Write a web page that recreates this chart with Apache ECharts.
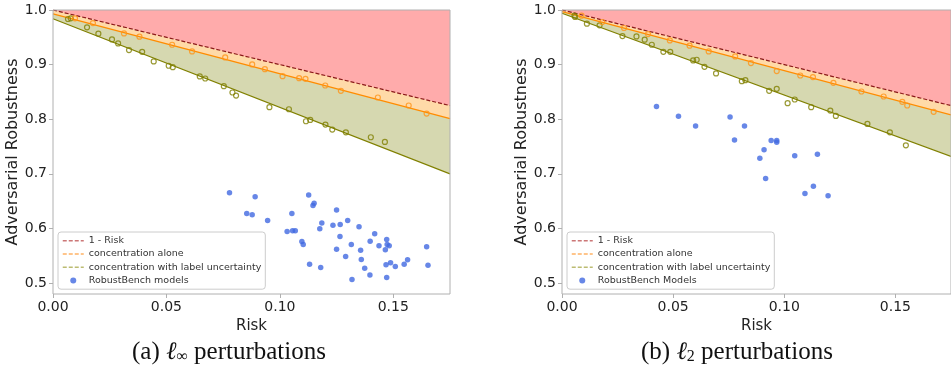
<!DOCTYPE html>
<html>
<head>
<meta charset="utf-8">
<script src="https://cdn.jsdelivr.net/npm/echarts@6/dist/echarts.min.js"></script>
<style>
  html, body { margin: 0; padding: 0; background: #fff; }
  #chart { width: 951px; height: 365px; }
</style>
</head>
<body>
<div id="chart"></div>
<script>
// axis ticks
const xTicks = [0, 0.05, 0.10, 0.15];
const yTicks = [0.5, 0.6, 0.7, 0.8, 0.9, 1.0];
const riskEnds = [0, 0.175];

// (a) l-inf: bound lines at risk = 0 and risk = 0.175
const linfOneMinusRisk = [1.0, 0.825];
const linfConcAlone = [0.993, 0.801];
const linfConcLabel = [0.984, 0.700];

// (b) l2
const l2OneMinusRisk = [1.0, 0.825];
const l2ConcAlone = [0.997, 0.808];
const l2ConcLabel = [0.994, 0.732];

// (a) points [risk, robustness]
const linfAlonePts = [
  [0.0097, 0.9847], [0.0176, 0.9761], [0.0313, 0.9572], [0.0381, 0.9511], [0.0525, 0.9364],
  [0.0613, 0.9242], [0.0759, 0.9131], [0.0878, 0.9003], [0.0934, 0.8917], [0.1012, 0.8789],
  [0.1085, 0.8752], [0.1113, 0.8740], [0.1200, 0.8618], [0.1269, 0.8520], [0.1432, 0.8398],
  [0.1568, 0.8251], [0.1647, 0.8104]
];
const linfLabelPts = [
  [0.0066, 0.9835], [0.0078, 0.9847], [0.0150, 0.9682], [0.0200, 0.9566], [0.0260, 0.9462],
  [0.0287, 0.9388], [0.0335, 0.9266], [0.0393, 0.9235], [0.0444, 0.9058], [0.0510, 0.8979],
  [0.0528, 0.8954], [0.0647, 0.8783], [0.0671, 0.8746], [0.0753, 0.8606], [0.0791, 0.8489],
  [0.0807, 0.8434], [0.0954, 0.8220], [0.1040, 0.8183], [0.1115, 0.7963], [0.1134, 0.7988],
  [0.1201, 0.7902], [0.1231, 0.7810], [0.1291, 0.7761], [0.1401, 0.7670], [0.1463, 0.7584]
];
const linfModels = [
  [0.0778, 0.6655], [0.0854, 0.6275], [0.0878, 0.6250], [0.0891, 0.6580], [0.0946, 0.6147],
  [0.1032, 0.5945], [0.1053, 0.6275], [0.1056, 0.5958], [0.1068, 0.5958], [0.1097, 0.5761],
  [0.1103, 0.5706], [0.1127, 0.6611], [0.1131, 0.5345], [0.1146, 0.6420], [0.1151, 0.6460],
  [0.1176, 0.5994], [0.1185, 0.6098], [0.1180, 0.5284], [0.1234, 0.6060], [0.1250, 0.6336],
  [0.1250, 0.5620], [0.1266, 0.6073], [0.1265, 0.5853], [0.1290, 0.5486], [0.1299, 0.6147],
  [0.1315, 0.5706], [0.1318, 0.5064], [0.1349, 0.6031], [0.1356, 0.5602], [0.1359, 0.5431],
  [0.1374, 0.5272], [0.1397, 0.5150], [0.1398, 0.5767], [0.1418, 0.5902], [0.1437, 0.5682],
  [0.1465, 0.5609], [0.1471, 0.5798], [0.1473, 0.5706], [0.1482, 0.5682], [0.1468, 0.5334],
  [0.1471, 0.5101], [0.1488, 0.5370], [0.1509, 0.5303], [0.1548, 0.5345], [0.1563, 0.5425],
  [0.1647, 0.5664], [0.1653, 0.5327]
];

// (b) points
const l2AlonePts = [
  [0.0088, 0.9896], [0.0181, 0.9780], [0.0279, 0.9670], [0.0387, 0.9560], [0.0485, 0.9443],
  [0.0574, 0.9346], [0.0660, 0.9242], [0.0779, 0.9150], [0.0850, 0.9028], [0.0966, 0.8881],
  [0.1072, 0.8801], [0.1129, 0.8771], [0.1221, 0.8667], [0.1347, 0.8508], [0.1447, 0.8416],
  [0.1531, 0.8318], [0.1553, 0.8251], [0.1672, 0.8135]
];
const l2LabelPts = [
  [0.0056, 0.9896], [0.0059, 0.9872], [0.0112, 0.9749], [0.0169, 0.9719], [0.0272, 0.9523],
  [0.0335, 0.9517], [0.0372, 0.9456], [0.0404, 0.9364], [0.0456, 0.9235], [0.0487, 0.9235],
  [0.0590, 0.9076], [0.0606, 0.9089], [0.0641, 0.8960], [0.0693, 0.8838], [0.0809, 0.8697],
  [0.0825, 0.8716], [0.0932, 0.8520], [0.0966, 0.8557], [0.1015, 0.8294], [0.1047, 0.8361],
  [0.1121, 0.8220], [0.1207, 0.8159], [0.1232, 0.8061], [0.1374, 0.7914], [0.1475, 0.7761],
  [0.1547, 0.7523]
];
const l2Models = [
  [0.0425, 0.8232], [0.0524, 0.8055], [0.0601, 0.7878], [0.0756, 0.8043], [0.0776, 0.7621],
  [0.0821, 0.7878], [0.0890, 0.7284], [0.0909, 0.7443], [0.0941, 0.7609], [0.0966, 0.7609],
  [0.0966, 0.7578], [0.1047, 0.7333], [0.1149, 0.7358], [0.0916, 0.6917], [0.1093, 0.6642],
  [0.1131, 0.6771], [0.1197, 0.6599]
];

const FONT = 'DejaVu Sans';
const chart = echarts.init(document.getElementById('chart'), null, { renderer: 'canvas' });

const pair = ys => riskEnds.map((x, i) => [x, ys[i]]);

function panelSeries(g, one, alone, label, alonePts, labelPts, models, modelName) {
  const base = { type: 'line', xAxisIndex: g, yAxisIndex: g, symbol: 'none', silent: true, z: 1 };
  return [
    Object.assign({}, base, {
      name: 'concentration with label uncertainty', data: pair(label),
      lineStyle: { color: '#808000', width: 1.2 },
      areaStyle: { color: '#d6d8b0', opacity: 1, origin: 'end' }
    }),
    Object.assign({}, base, {
      name: 'concentration alone', data: pair(alone),
      lineStyle: { color: '#ff8c00', width: 1.3 },
      areaStyle: { color: '#ffdaa8', opacity: 1, origin: 'end' }
    }),
    Object.assign({}, base, {
      name: '1 - Risk', data: pair(one),
      lineStyle: { color: '#8b1a1a', width: 1.2, type: [4, 2] },
      areaStyle: { color: '#ffabab', opacity: 1, origin: 'end' }
    }),
    {
      type: 'scatter', name: 'label pts', xAxisIndex: g, yAxisIndex: g, data: labelPts,
      symbol: 'circle', symbolSize: 5, z: 3,
      itemStyle: { color: 'rgba(0,0,0,0)', borderColor: '#808000', borderWidth: 1.2 }
    },
    {
      type: 'scatter', name: 'alone pts', xAxisIndex: g, yAxisIndex: g, data: alonePts,
      symbol: 'circle', symbolSize: 5, z: 3,
      itemStyle: { color: 'rgba(0,0,0,0)', borderColor: '#ff9416', borderWidth: 1.2 }
    },
    {
      type: 'scatter', name: modelName, xAxisIndex: g, yAxisIndex: g, data: models,
      symbol: 'circle', symbolSize: 5.5, z: 4,
      itemStyle: { color: '#4169e1' }
    }
  ];
}

function xAxis(g) {
  return {
    type: 'value', gridIndex: g, min: riskEnds[0], max: riskEnds[1],
    name: 'Risk', nameLocation: 'middle', nameGap: 21,
    nameTextStyle: { fontFamily: FONT, fontSize: 15, color: '#222' },
    axisLine: { show: false },
    axisTick: { show: true, length: 4, lineStyle: { color: '#b0b0b0' }, customValues: xTicks },
    axisLabel: { fontFamily: FONT, fontSize: 14, color: '#222', margin: 6,
      customValues: xTicks, formatter: v => v.toFixed(2) },
    splitLine: { show: false }
  };
}
function yAxis(g) {
  return {
    type: 'value', gridIndex: g, min: 0.48, max: 1.0,
    name: 'Adversarial Robustness', nameLocation: 'middle', nameGap: 30,
    nameTextStyle: { fontFamily: FONT, fontSize: 16, color: '#222' },
    axisLine: { show: false },
    axisTick: { show: true, length: 4, lineStyle: { color: '#b0b0b0' }, customValues: yTicks },
    axisLabel: { fontFamily: FONT, fontSize: 14, color: '#222', margin: 6,
      customValues: yTicks, formatter: v => v.toFixed(1) },
    splitLine: { show: false }
  };
}

function legend(left, modelName) {
  const dash = c => ({ color: c, width: 1.5, type: [4, 2] });
  const noMark = { color: 'rgba(0,0,0,0)', borderWidth: 0, opacity: 0 };
  return {
    left: left, top: 232, orient: 'vertical', selectedMode: false,
    backgroundColor: '#fff', borderColor: '#cccccc', borderWidth: 1, borderRadius: 3,
    padding: [2, 4, 2, 4], itemWidth: 21, itemHeight: 6, itemGap: 0,
    textStyle: { fontFamily: FONT, fontSize: 9.5, lineHeight: 13.3, color: '#333' },
    data: [
      { name: '1 - Risk', itemStyle: noMark, lineStyle: dash('#cc7777') },
      { name: 'concentration alone', itemStyle: noMark, lineStyle: dash('#ffb366') },
      { name: 'concentration with label uncertainty', itemStyle: noMark, lineStyle: dash('#bcbc72') },
      { name: modelName, icon: 'circle', itemStyle: { color: '#4169e1' } }
    ]
  };
}

const gridBase = { top: 10, width: 397, height: 284, show: true, z: 10,
  backgroundColor: 'transparent', borderColor: '#b0b0b0', borderWidth: 1 };

function caption(x, tag, sub) {
  return {
    type: 'text', x: x, y: 352, z: 100,
    style: {
      text: '(' + tag + ') {l|ℓ}{s|' + sub + '} perturbations',
      align: 'center', verticalAlign: 'middle',
      font: '25px "Liberation Serif"', fill: '#111',
      rich: {
        l: { fontFamily: 'Liberation Serif', fontSize: 25, fontStyle: 'italic' },
        s: { fontFamily: 'Liberation Serif', fontSize: 16, verticalAlign: 'bottom', lineHeight: 16 }
      }
    }
  };
}

const option = {
  animation: false,
  backgroundColor: '#ffffff',
  grid: [
    Object.assign({ left: 53 }, gridBase),
    Object.assign({ left: 562 }, gridBase)
  ],
  xAxis: [xAxis(0), xAxis(1)],
  yAxis: [yAxis(0), yAxis(1)],
  legend: [legend(58, 'RobustBench models'), legend(567, 'RobustBench Models')],
  series: [].concat(
    panelSeries(0, linfOneMinusRisk, linfConcAlone, linfConcLabel, linfAlonePts, linfLabelPts, linfModels, 'RobustBench models'),
    panelSeries(1, l2OneMinusRisk, l2ConcAlone, l2ConcLabel, l2AlonePts, l2LabelPts, l2Models, 'RobustBench Models')
  ),
  graphic: [caption(229, 'a', '∞'), caption(737, 'b', '2')]
};

chart.setOption(option);
</script>
</body>
</html>
